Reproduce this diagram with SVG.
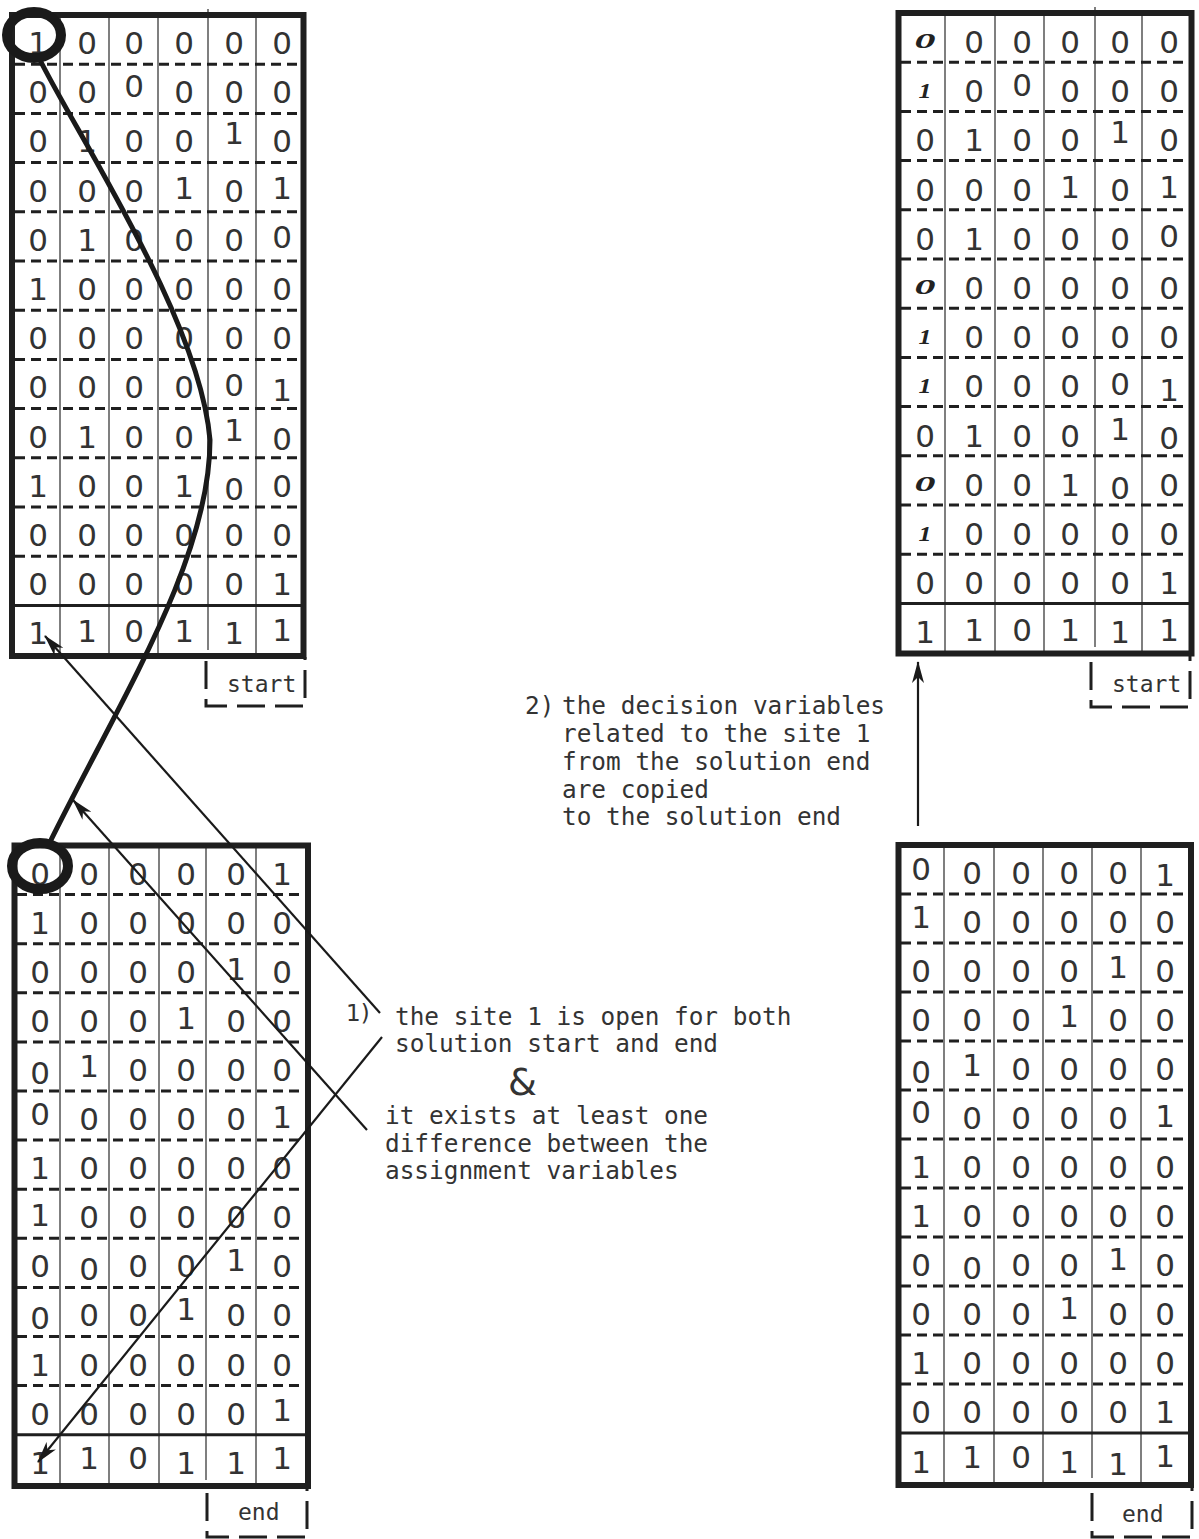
<svg xmlns="http://www.w3.org/2000/svg" width="1199" height="1539" viewBox="0 0 1199 1539">
<defs>
<style>
.box{fill:none;stroke:#1f1f1f;stroke-width:6}
.col{stroke:#555;stroke-width:1.5}
.dash{stroke:#1f1f1f;stroke-width:3;stroke-dasharray:10 6}
.solid{stroke:#1f1f1f;stroke-width:3}
.d{font-family:"DejaVu Sans",sans-serif;font-size:31px;fill:#333;text-anchor:middle}
.it{font-family:"Liberation Serif",serif;font-size:21px;font-weight:bold;font-style:italic;fill:#222;text-anchor:middle}
.lab{fill:none;stroke:#1f1f1f;stroke-width:3;stroke-dasharray:28 10}
.t{font-family:"DejaVu Sans Mono",monospace;font-size:24.4px;fill:#333}
.s{font-family:"DejaVu Sans Mono",monospace;font-size:23px;fill:#333}
.arr{stroke:#1a1a1a;stroke-width:2.2;fill:none}
.thick{stroke:#1a1a1a;stroke-width:5;fill:none}
.ring{stroke:#1a1a1a;stroke-width:10;fill:none}
</style>
<marker id="ah" viewBox="0 0 22 12" refX="21" refY="6" markerWidth="22" markerHeight="12" markerUnits="userSpaceOnUse" orient="auto">
<path d="M0,0 L22,6 L0,12 L6,6 Z" fill="#1a1a1a"/>
</marker>
</defs>
<rect width="1199" height="1539" fill="#fff"/>

<g id="grid-start-left">
<g class="col">
<line x1="60" y1="15" x2="60" y2="656"/><line x1="109" y1="15" x2="109" y2="656"/><line x1="158" y1="15" x2="158" y2="656"/><line x1="208" y1="9" x2="208" y2="650"/><line x1="256" y1="15" x2="256" y2="656"/>
</g>
<g class="dash">
<line x1="15" y1="64.2" x2="301" y2="64.2"/><line x1="15" y1="113.4" x2="301" y2="113.4"/><line x1="15" y1="162.6" x2="301" y2="162.6"/><line x1="15" y1="211.8" x2="301" y2="211.8"/><line x1="15" y1="261" x2="301" y2="261"/><line x1="15" y1="310.2" x2="301" y2="310.2"/><line x1="15" y1="359.4" x2="301" y2="359.4"/><line x1="15" y1="408.6" x2="301" y2="408.6"/><line x1="15" y1="457.8" x2="301" y2="457.8"/><line x1="15" y1="507" x2="301" y2="507"/><line x1="15" y1="556.2" x2="301" y2="556.2"/>
</g>
<line class="solid" x1="12" y1="605.4" x2="303" y2="605.4"/>
<rect class="box" x="12" y="15" width="291.5" height="641"/>
<g class="d">
<text x="38 87 134 184 234 282" y="54">100000</text>
<text x="38 87 134 184 234 282" y="103.2 103.2 97 103.2 103.2 103.2">000000</text>
<text x="38 87 134 184 234 282" y="152.4 152.4 152.4 152.4 144 152.4">010010</text>
<text x="38 87 134 184 234 282" y="201.6 201.6 201.6 199 201.6 199">000101</text>
<text x="38 87 134 184 234 282" y="250.8 250.8 250.8 250.8 250.8 248">010000</text>
<text x="38 87 134 184 234 282" y="300">100000</text>
<text x="38 87 134 184 234 282" y="349.2">000000</text>
<text x="38 87 134 184 234 282" y="398.4 398.4 398.4 398.4 396 401">000001</text>
<text x="38 87 134 184 234 282" y="447.6 447.6 447.6 447.6 441 450">010010</text>
<text x="38 87 134 184 234 282" y="496.8 496.8 496.8 496.8 500 496.8">100100</text>
<text x="38 87 134 184 234 282" y="546">000000</text>
<text x="38 87 134 184 234 282" y="595.2">000001</text>
<text x="38 87 134 184 234 282" y="644.4 642 642 642 644.4 641">110111</text>
</g>
</g>

<g id="grid-start-right">
<g class="col">
<line x1="945" y1="13" x2="945" y2="653"/><line x1="995" y1="13" x2="995" y2="653"/><line x1="1044" y1="13" x2="1044" y2="653"/><line x1="1095" y1="7" x2="1095" y2="647"/><line x1="1142" y1="13" x2="1142" y2="653"/>
</g>
<g class="dash">
<line x1="901" y1="62.2" x2="1189" y2="62.2"/><line x1="901" y1="111.4" x2="1189" y2="111.4"/><line x1="901" y1="160.6" x2="1189" y2="160.6"/><line x1="901" y1="209.8" x2="1189" y2="209.8"/><line x1="901" y1="259" x2="1189" y2="259"/><line x1="901" y1="308.2" x2="1189" y2="308.2"/><line x1="901" y1="357.4" x2="1189" y2="357.4"/><line x1="901" y1="406.6" x2="1189" y2="406.6"/><line x1="901" y1="455.8" x2="1189" y2="455.8"/><line x1="901" y1="505" x2="1189" y2="505"/><line x1="901" y1="554.2" x2="1189" y2="554.2"/>
</g>
<line class="solid" x1="898" y1="603.4" x2="1191" y2="603.4"/>
<rect class="box" x="898.5" y="13" width="293" height="640.5"/>
<g class="it">
<text x="925" y="48" textLength="21" lengthAdjust="spacingAndGlyphs">0</text>
<text x="925" y="97.5" textLength="13" lengthAdjust="spacingAndGlyphs">1</text>
<text x="925" y="294" textLength="21" lengthAdjust="spacingAndGlyphs">0</text>
<text x="925" y="343.5" textLength="13" lengthAdjust="spacingAndGlyphs">1</text>
<text x="925" y="392.5" textLength="13" lengthAdjust="spacingAndGlyphs">1</text>
<text x="925" y="491" textLength="21" lengthAdjust="spacingAndGlyphs">0</text>
<text x="925" y="540.5" textLength="13" lengthAdjust="spacingAndGlyphs">1</text>
</g>
<g class="d">
<text x="974 1022 1070 1120 1169" y="53">00000</text>
<text x="974 1022 1070 1120 1169" y="102.2 96 102.2 102.2 102.2">00000</text>
<text x="925 974 1022 1070 1120 1169" y="151.4 151.4 151.4 151.4 143 151.4">010010</text>
<text x="925 974 1022 1070 1120 1169" y="200.6 200.6 200.6 198 200.6 198">000101</text>
<text x="925 974 1022 1070 1120 1169" y="249.8 249.8 249.8 249.8 249.8 247">010000</text>
<text x="974 1022 1070 1120 1169" y="299">00000</text>
<text x="974 1022 1070 1120 1169" y="348.2">00000</text>
<text x="974 1022 1070 1120 1169" y="397.4 397.4 397.4 395 401">00001</text>
<text x="925 974 1022 1070 1120 1169" y="446.6 446.6 446.6 446.6 440 449">010010</text>
<text x="974 1022 1070 1120 1169" y="495.8 495.8 495.8 499 495.8">00100</text>
<text x="974 1022 1070 1120 1169" y="545">00000</text>
<text x="925 974 1022 1070 1120 1169" y="594.2">000001</text>
<text x="925 974 1022 1070 1120 1169" y="643.4 641 641 641 643.4 641">110111</text>
</g>
</g>

<g id="grid-end-left">
<g class="col">
<line x1="60" y1="845" x2="60" y2="1486"/><line x1="109" y1="845" x2="109" y2="1486"/><line x1="159" y1="845" x2="159" y2="1486"/><line x1="206" y1="845" x2="206" y2="1480"/><line x1="256" y1="845" x2="256" y2="1486"/>
</g>
<g class="dash">
<line x1="17" y1="894.6" x2="305" y2="894.6"/><line x1="17" y1="943.7" x2="305" y2="943.7"/><line x1="17" y1="992.8" x2="305" y2="992.8"/><line x1="17" y1="1041.9" x2="305" y2="1041.9"/><line x1="17" y1="1091" x2="305" y2="1091"/><line x1="17" y1="1140.1" x2="305" y2="1140.1"/><line x1="17" y1="1189.2" x2="305" y2="1189.2"/><line x1="17" y1="1238.3" x2="305" y2="1238.3"/><line x1="17" y1="1287.4" x2="305" y2="1287.4"/><line x1="17" y1="1336.5" x2="305" y2="1336.5"/><line x1="17" y1="1385.6" x2="305" y2="1385.6"/>
</g>
<line class="solid" x1="14" y1="1434.7" x2="308" y2="1434.7"/>
<rect class="box" x="14.5" y="845.5" width="293.5" height="640.5"/>
<g class="d">
<text x="40 89 138 186 236 282" y="884.5">000001</text>
<text x="40 89 138 186 236 282" y="933.6">100000</text>
<text x="40 89 138 186 236 282" y="982.7 982.7 982.7 982.7 980 982.7">000010</text>
<text x="40 89 138 186 236 282" y="1031.8 1031.8 1031.8 1029 1031.8 1031.8">000100</text>
<text x="40 89 138 186 236 282" y="1084 1077 1080.9 1080.9 1080.9 1080.9">010000</text>
<text x="40 89 138 186 236 282" y="1125 1130 1130 1130 1130 1128">000001</text>
<text x="40 89 138 186 236 282" y="1179.1">100000</text>
<text x="40 89 138 186 236 282" y="1226 1228.2 1228.2 1228.2 1228.2 1228.2">100000</text>
<text x="40 89 138 186 236 282" y="1277.3 1280 1277.3 1277.3 1271 1277.3">000010</text>
<text x="40 89 138 186 236 282" y="1329 1326.4 1326.4 1320 1326.4 1326.4">000100</text>
<text x="40 89 138 186 236 282" y="1375.5">100000</text>
<text x="40 89 138 186 236 282" y="1424.6 1424.6 1424.6 1424.6 1424.6 1421">000001</text>
<text x="40 89 138 186 236 282" y="1473.7 1469 1469 1473.7 1473.7 1469">110111</text>
</g>
</g>

<g id="grid-end-right">
<g class="col">
<line x1="944" y1="845" x2="944" y2="1485"/><line x1="994" y1="845" x2="994" y2="1485"/><line x1="1043" y1="845" x2="1043" y2="1485"/><line x1="1092" y1="845" x2="1092" y2="1478"/><line x1="1141" y1="845" x2="1141" y2="1485"/>
</g>
<g class="dash">
<line x1="901" y1="894" x2="1189" y2="894"/><line x1="901" y1="943" x2="1189" y2="943"/><line x1="901" y1="992" x2="1189" y2="992"/><line x1="901" y1="1041" x2="1189" y2="1041"/><line x1="901" y1="1090" x2="1189" y2="1090"/><line x1="901" y1="1139" x2="1189" y2="1139"/><line x1="901" y1="1188" x2="1189" y2="1188"/><line x1="901" y1="1237" x2="1189" y2="1237"/><line x1="901" y1="1286" x2="1189" y2="1286"/><line x1="901" y1="1335" x2="1189" y2="1335"/><line x1="901" y1="1384" x2="1189" y2="1384"/>
</g>
<line class="solid" x1="898" y1="1433" x2="1191" y2="1433"/>
<rect class="box" x="898.5" y="845" width="292.5" height="640"/>
<g class="d">
<text x="921 972 1021 1069 1118 1165" y="880 884 884 884 884 886">000001</text>
<text x="921 972 1021 1069 1118 1165" y="928 933 933 933 933 933">100000</text>
<text x="921 972 1021 1069 1118 1165" y="982 982 982 982 978 982">000010</text>
<text x="921 972 1021 1069 1118 1165" y="1031 1031 1031 1027 1031 1031">000100</text>
<text x="921 972 1021 1069 1118 1165" y="1083 1076 1080 1080 1080 1080">010000</text>
<text x="921 972 1021 1069 1118 1165" y="1123 1129 1129 1129 1129 1127">000001</text>
<text x="921 972 1021 1069 1118 1165" y="1178">100000</text>
<text x="921 972 1021 1069 1118 1165" y="1227">100000</text>
<text x="921 972 1021 1069 1118 1165" y="1276 1279 1276 1276 1270 1276">000010</text>
<text x="921 972 1021 1069 1118 1165" y="1325 1325 1325 1319 1325 1325">000100</text>
<text x="921 972 1021 1069 1118 1165" y="1374">100000</text>
<text x="921 972 1021 1069 1118 1165" y="1423">000001</text>
<text x="921 972 1021 1069 1118 1165" y="1473 1468 1468 1473 1475 1467">110111</text>
</g>
</g>

<g id="label-start-left">
<path class="lab" d="M206,661 V706 H305 V657"/>
<text class="s" x="227" y="692">start</text>
</g>
<g id="label-start-right">
<path class="lab" d="M1091,662 V707 H1190 V656"/>
<text class="s" x="1112" y="692">start</text>
</g>
<g id="label-end-left">
<path class="lab" d="M207,1493 V1537 H307 V1489"/>
<text class="s" x="238" y="1520">end</text>
</g>
<g id="label-end-right">
<path class="lab" d="M1092,1493 V1537 H1192 V1488"/>
<text class="s" x="1122" y="1522">end</text>
</g>

<g id="note-2">
<text class="t" x="525" y="714">2)</text>
<text class="t" x="562" y="714">the decision variables</text>
<text class="t" x="562" y="742">related to the site 1</text>
<text class="t" x="562" y="770">from the solution end</text>
<text class="t" x="562" y="798">are copied</text>
<text class="t" x="562" y="825">to the solution end</text>
</g>

<g id="note-1">
<text x="346" y="1021" style="font-family:'DejaVu Sans',sans-serif;font-size:23px;fill:#333">1)</text>
<text class="t" x="395" y="1025">the site 1 is open for both</text>
<text class="t" x="395" y="1052">solution start and end</text>
<text x="508" y="1095" style="font-family:'DejaVu Sans',sans-serif;font-size:37px;fill:#333">&amp;</text>
<text class="t" x="385" y="1124">it exists at least one</text>
<text class="t" x="385" y="1152">difference between the</text>
<text class="t" x="385" y="1179">assignment variables</text>
</g>

<g id="connectors">
<path class="thick" d="M40,60 C80,140 200,320 210,440 C210,560 120,700 50,842"/>
<ellipse class="ring" cx="34" cy="35" rx="27" ry="23"/>
<ellipse class="ring" cx="40" cy="866" rx="28" ry="23"/>
<line class="arr" x1="380" y1="1013" x2="45" y2="636" marker-end="url(#ah)"/>
<line class="arr" x1="382" y1="1037" x2="38" y2="1462" marker-end="url(#ah)"/>
<line class="arr" x1="367" y1="1130" x2="73" y2="800" marker-end="url(#ah)"/>
<line class="arr" x1="918" y1="826" x2="918" y2="662" marker-end="url(#ah)"/>
</g>
</svg>
